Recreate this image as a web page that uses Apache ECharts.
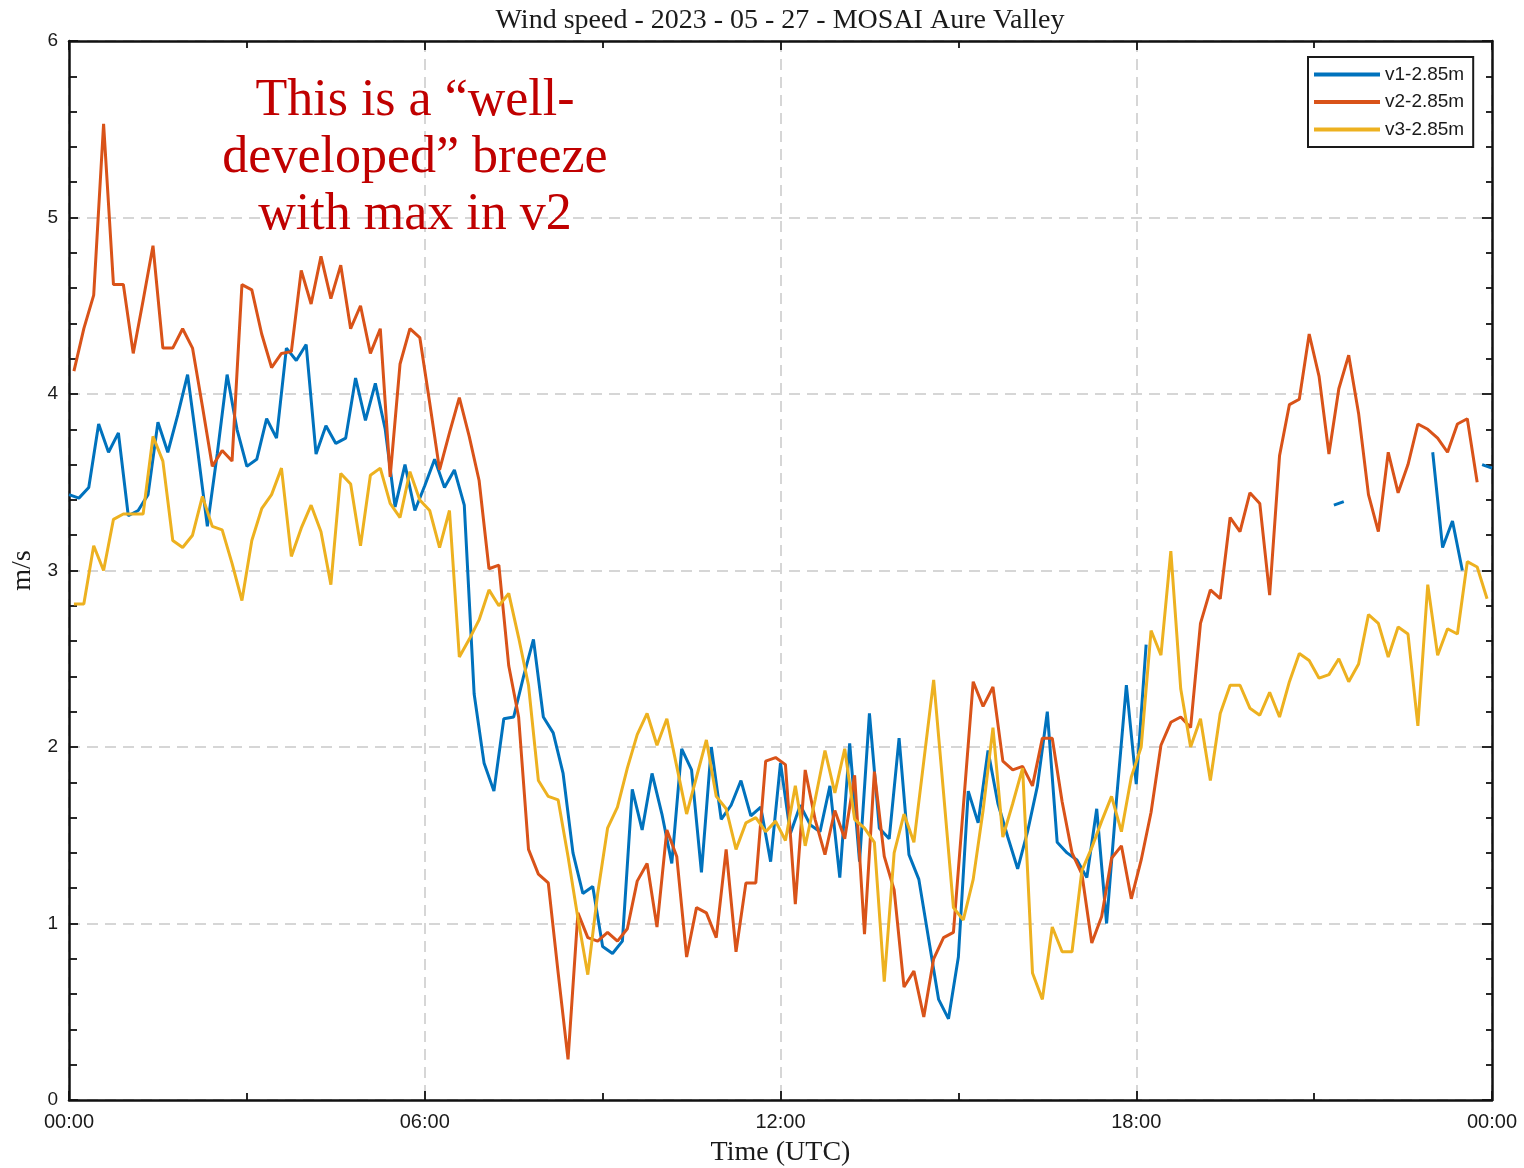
<!DOCTYPE html>
<html>
<head>
<meta charset="utf-8">
<script src="https://cdn.jsdelivr.net/npm/echarts@6/dist/echarts.min.js"></script>
<style>
  html, body { margin: 0; padding: 0; background: #fff; }
  #chart { width: 1524px; height: 1168px; }
</style>
</head>
<body>
<div id="chart"></div>
<script>
// ---- data (m/s), 10-minute samples ----
const TITLE = 'Wind speed - 2023 - 05 - 27 - MOSAI Aure Valley';
const seriesNames = ['v1-2.85m', 'v2-2.85m', 'v3-2.85m'];
const xTickLabels = ['00:00', '06:00', '12:00', '18:00', '00:00'];
const yTickLabels = ['0', '1', '2', '3', '4', '5', '6'];
const stepMinutes = 10;
const v1StartMinute = 0;
const v23StartMinute = 5;

const v1 = [3.43,3.41,3.47,3.83,3.67,3.78,3.31,3.34,3.43,3.84,
 3.67,3.88,4.11,3.69,3.25,3.66,4.11,3.80,3.59,3.63,
 3.86,3.75,4.26,4.19,4.28,3.66,3.82,3.72,3.75,4.09,
 3.85,4.06,3.80,3.36,3.60,3.34,3.48,3.63,3.47,3.57,
 3.37,2.30,1.91,1.75,2.16,2.17,2.40,2.61,2.17,2.08,
 1.85,1.40,1.17,1.21,0.87,0.83,0.90,1.76,1.53,1.85,
 1.62,1.34,1.99,1.87,1.29,2.00,1.59,1.67,1.81,1.61,
 1.66,1.35,1.91,1.51,1.67,1.56,1.52,1.78,1.26,2.02,
 1.35,2.19,1.54,1.48,2.05,1.39,1.25,0.91,0.57,0.46,
 0.81,1.75,1.57,1.98,1.68,1.49,1.31,1.52,1.78,2.20,
 1.46,1.40,1.36,1.26,1.65,1.00,1.70,2.35,1.79,2.58,
 null,null,null,null,null,null,null,null,null,null,
 null,null,null,null,null,null,null,null,
 3.37,3.39,
 null,null,null,null,null,null,null,null,
 3.67,3.13,3.28,3.00,null,3.60,3.58];

const v2 = [4.13,4.37,4.56,5.53,4.62,4.62,4.23,4.53,4.84,4.26,
 4.26,4.37,4.26,3.93,3.59,3.68,3.62,4.62,4.59,4.34,
 4.15,4.23,4.24,4.70,4.51,4.78,4.54,4.73,4.37,4.50,
 4.23,4.37,3.53,4.17,4.37,4.32,3.95,3.57,3.78,3.98,
 3.76,3.51,3.01,3.03,2.46,2.17,1.42,1.28,1.23,0.72,
 0.23,1.06,0.92,0.90,0.95,0.90,0.97,1.24,1.34,0.98,
 1.53,1.38,0.81,1.09,1.06,0.92,1.42,0.84,1.23,1.23,
 1.92,1.94,1.90,1.11,1.87,1.59,1.39,1.64,1.48,1.84,
 0.94,1.86,1.38,1.19,0.64,0.73,0.47,0.80,0.92,0.95,
 1.66,2.37,2.23,2.34,1.92,1.87,1.89,1.78,2.05,2.05,
 1.69,1.40,1.28,0.89,1.04,1.37,1.44,1.14,1.36,1.63,
 2.01,2.14,2.17,2.11,2.70,2.89,2.84,3.30,3.22,3.44,
 3.38,2.86,3.65,3.94,3.97,4.34,4.10,3.66,4.03,4.22,
 3.89,3.43,3.22,3.67,3.44,3.60,3.83,3.80,3.75,3.67,
 3.83,3.86,3.50,null];

const v3 = [2.81,2.81,3.14,3.00,3.29,3.32,3.32,3.32,3.76,3.62,
 3.17,3.13,3.20,3.42,3.25,3.23,3.04,2.83,3.17,3.35,
 3.43,3.58,3.08,3.24,3.37,3.22,2.92,3.55,3.49,3.14,
 3.54,3.58,3.38,3.30,3.56,3.40,3.34,3.13,3.34,2.51,
 2.61,2.72,2.89,2.80,2.87,2.62,2.35,1.81,1.72,1.70,
 1.38,1.03,0.71,1.17,1.54,1.66,1.88,2.07,2.19,2.01,
 2.16,1.89,1.62,1.83,2.04,1.72,1.65,1.42,1.57,1.60,
 1.52,1.58,1.47,1.78,1.44,1.70,1.98,1.74,1.99,1.59,
 1.54,1.46,0.67,1.40,1.62,1.46,1.92,2.38,1.74,1.09,
 1.02,1.25,1.64,2.11,1.49,1.68,1.88,0.72,0.57,0.98,
 0.84,0.84,1.30,1.43,1.58,1.72,1.52,1.83,2.00,2.66,
 2.52,3.11,2.33,2.00,2.16,1.81,2.19,2.35,2.35,2.22,
 2.18,2.31,2.17,2.37,2.53,2.49,2.39,2.41,2.50,2.37,
 2.47,2.75,2.70,2.51,2.68,2.64,2.12,2.92,2.52,2.67,
 2.64,3.05,3.02,2.84];

const annotationText = 'This is a \u201Cwell-\ndeveloped\u201D breeze\nwith max in v2';

// ---- build ----
function pairs(values, start) {
  return values.map((v, k) => [start + k * stepMinutes, v]);
}
const colors = ['#0072BD', '#D95319', '#EDB120'];
const sansFont = '"Liberation Sans", Arial, sans-serif';
const serifFont = '"Liberation Serif", "Times New Roman", serif';

const xLabelAt = {};
xTickLabels.forEach((t, k) => { xLabelAt[k * 360] = t; });

const gridLine = { show: true, lineStyle: { color: '#d6d6d6', width: 2, type: [11, 7] } };

function xAxisCfg(pos, main) {
  return {
    type: 'value', position: pos, min: 0, max: 1440, interval: 360,
    axisLine: { show: true, onZero: false, lineStyle: { color: '#111', width: 2.5 } },
    axisTick: { show: true, inside: true, length: 9, lineStyle: { color: '#111', width: 1.8 } },
    minorTick: { show: true, splitNumber: 2, length: 7, lineStyle: { color: '#111', width: 1.8 } },
    axisLabel: main ? { show: true, margin: 12, fontSize: 20, fontFamily: sansFont, color: '#1a1a1a',
      formatter: v => xLabelAt[v] } : { show: false },
    splitLine: main ? gridLine : { show: false },
    name: main ? 'Time (UTC)' : '',
    nameLocation: 'middle', nameGap: 39,
    nameTextStyle: { fontFamily: serifFont, fontSize: 28, color: '#1a1a1a' }
  };
}
function yAxisCfg(pos, main) {
  return {
    type: 'value', position: pos, min: 0, max: 6, interval: 1,
    axisLine: { show: true, onZero: false, lineStyle: { color: '#111', width: 2.5 } },
    axisTick: { show: true, inside: true, length: main ? 9 : 10, lineStyle: { color: '#111', width: 1.8 } },
    minorTick: { show: true, splitNumber: 5, length: main ? 8 : 6, lineStyle: { color: '#111', width: 1.8 } },
    axisLabel: main ? { show: true, margin: 11, fontSize: 19, fontFamily: sansFont, color: '#1a1a1a',
      formatter: v => yTickLabels[Math.round(v)] } : { show: false },
    splitLine: main ? gridLine : { show: false },
    name: main ? 'm/s' : '',
    nameLocation: 'middle', nameGap: 26, nameRotate: 90,
    nameTextStyle: { fontFamily: serifFont, fontSize: 28, color: '#1a1a1a' }
  };
}

const chart = echarts.init(document.getElementById('chart'), null, { renderer: 'canvas' });
chart.setOption({
  animation: false,
  backgroundColor: '#fff',
  title: {
    text: TITLE, left: 780, top: 7, textAlign: 'center', padding: 0,
    textStyle: { fontFamily: serifFont, fontSize: 28, fontWeight: 'normal', color: '#1a1a1a' }
  },
  grid: { left: 69, right: 32, top: 41, bottom: 68, outerBoundsMode: 'none', containLabel: false },
  xAxis: [xAxisCfg('bottom', true), xAxisCfg('top', false)],
  yAxis: [yAxisCfg('left', true), yAxisCfg('right', false)],
  legend: {
    orient: 'vertical', left: 1308, top: 57,
    icon: 'rect', itemWidth: 66, itemHeight: 4, itemGap: 8.5,
    padding: [8, 9, 8, 6],
    borderColor: '#1a1a1a', borderWidth: 2, backgroundColor: '#fff',
    textStyle: { fontFamily: sansFont, fontSize: 19, color: '#1a1a1a', lineHeight: 19 },
    data: seriesNames
  },
  graphic: [{
    type: 'text', left: 415 - 220, top: 73, z: 50,
    style: {
      text: annotationText, x: 0, y: 0,
      font: '52px ' + serifFont, fill: '#C00000',
      textAlign: 'center', lineHeight: 57, width: 440, align: 'center'
    }
  }],
  series: [
    { name: seriesNames[0], type: 'line', data: pairs(v1, v1StartMinute), showSymbol: false,
      connectNulls: false, lineStyle: { color: colors[0], width: 3 }, itemStyle: { color: colors[0] } },
    { name: seriesNames[1], type: 'line', data: pairs(v2, v23StartMinute), showSymbol: false,
      connectNulls: false, lineStyle: { color: colors[1], width: 3 }, itemStyle: { color: colors[1] } },
    { name: seriesNames[2], type: 'line', data: pairs(v3, v23StartMinute), showSymbol: false,
      connectNulls: false, lineStyle: { color: colors[2], width: 3 }, itemStyle: { color: colors[2] } }
  ]
});
</script>
</body>
</html>
